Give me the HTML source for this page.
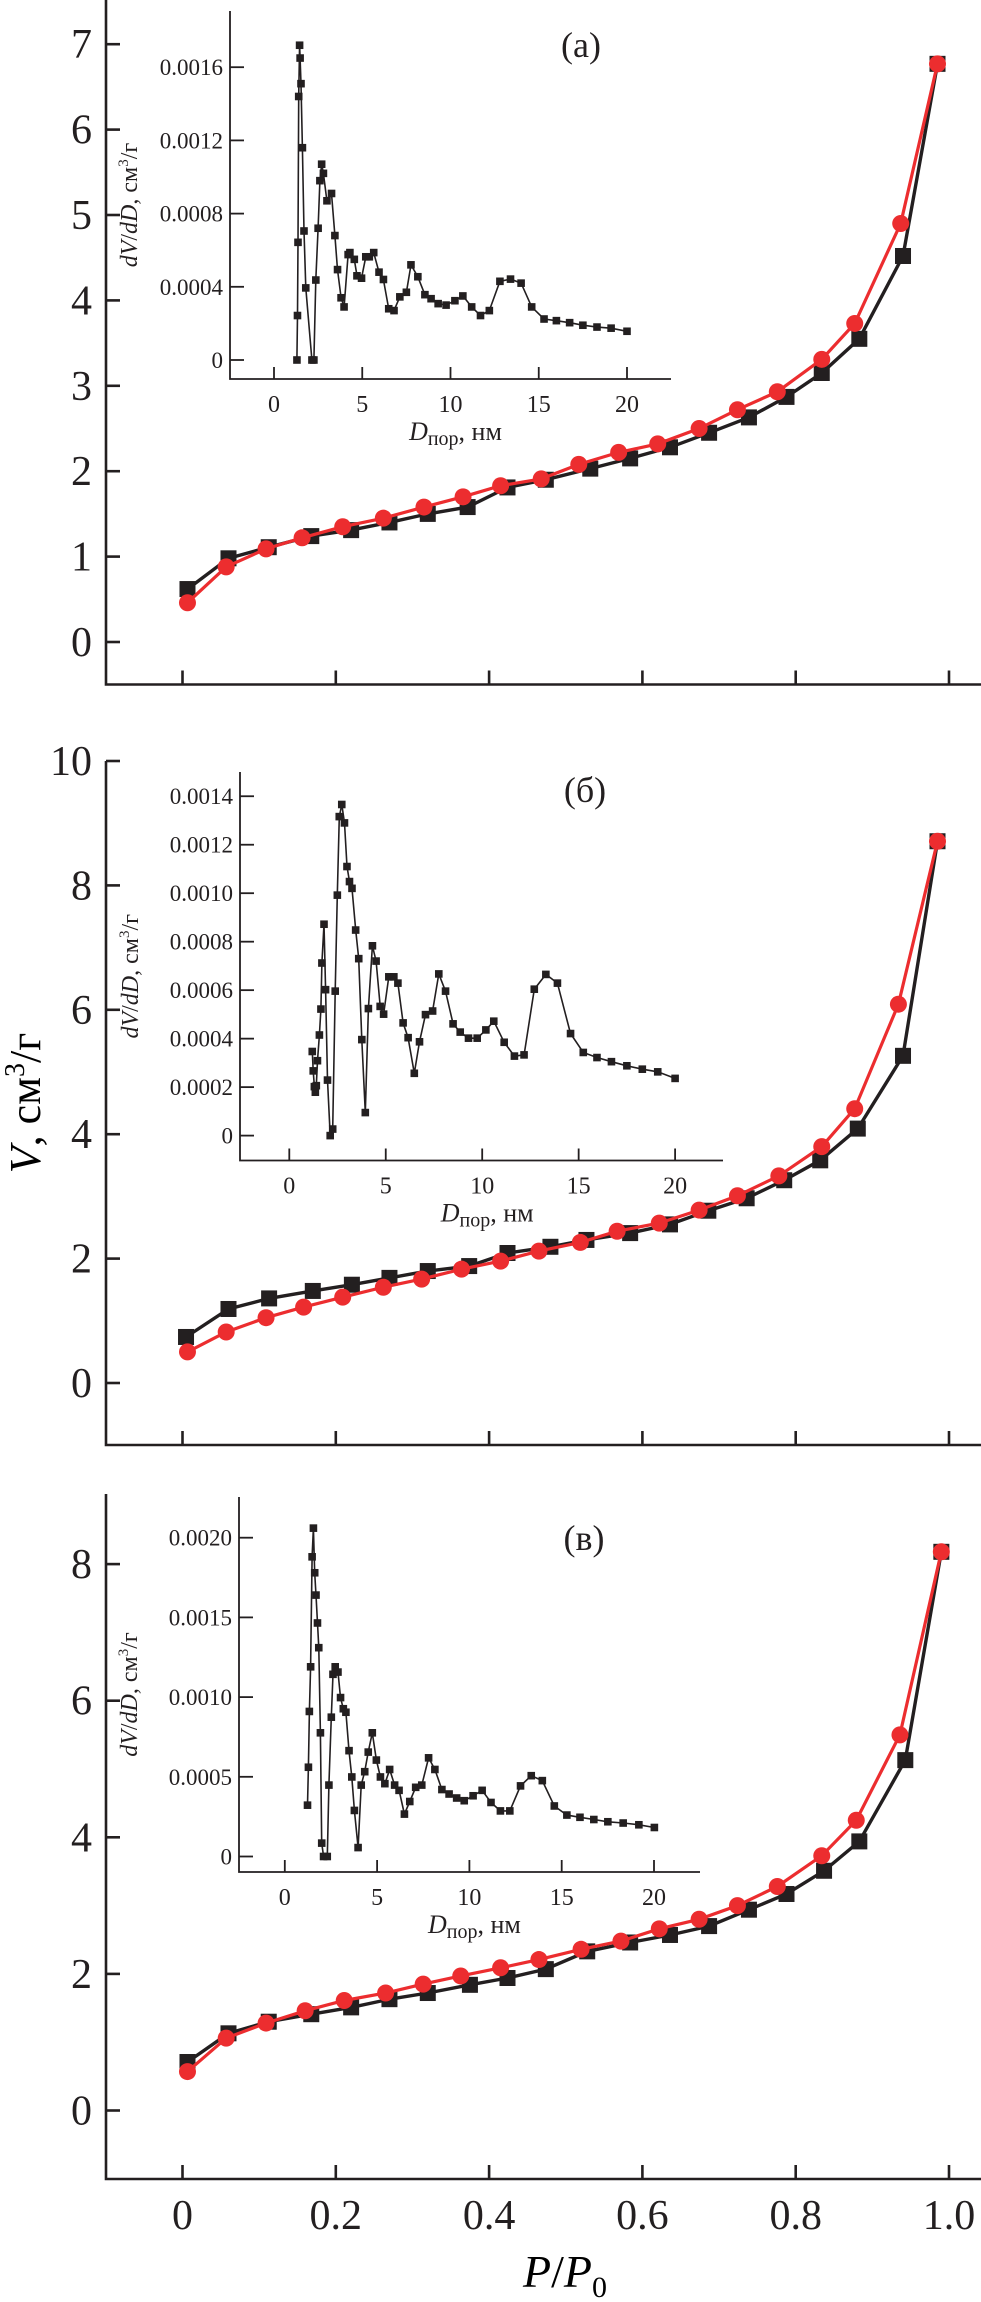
<!DOCTYPE html>
<html><head><meta charset="utf-8"><style>
html,body{margin:0;padding:0;background:#fff;}
svg{display:block;font-family:"Liberation Serif","DejaVu Serif",serif;}
</style></head><body>
<svg id="chart" width="981" height="2302" viewBox="0 0 981 2302" xmlns="http://www.w3.org/2000/svg">
<text x="40" y="1103" font-size="44" text-anchor="middle" transform="rotate(-90 40 1103)"><tspan font-style="italic">V</tspan>, см<tspan font-size="28" dy="-16">3</tspan><tspan dy="16">/г</tspan></text>
<text x="565" y="2287" font-size="46" text-anchor="middle"><tspan font-style="italic">P</tspan>/<tspan font-style="italic">P</tspan><tspan font-size="30" dy="10">0</tspan></text>
</svg>
<script>
// ---------- main isotherm data ----------
const xTicks = [0, 0.2, 0.4, 0.6, 0.8, 1.0];
const xTickLabels = ["0", "0.2", "0.4", "0.6", "0.8", "1.0"];
const aYTicks = [0,1,2,3,4,5,6,7];
const bYTicks = [0,2,4,6,8,10];
const cYTicks = [0,2,4,6,8];
const aBlackP = [0.0065,0.060,0.1125,0.168,0.22,0.27,0.32,0.372,0.424,0.474,0.532,0.584,0.636,0.687,0.739,0.788,0.834,0.883,0.94,0.985];
const aBlackV = [0.62,0.98,1.11,1.24,1.31,1.40,1.50,1.58,1.81,1.90,2.03,2.15,2.28,2.45,2.63,2.87,3.15,3.55,4.52,6.77];
const aRedP = [0.0065,0.057,0.109,0.156,0.209,0.262,0.315,0.366,0.415,0.468,0.517,0.569,0.62,0.674,0.724,0.776,0.834,0.877,0.937,0.985];
const aRedV = [0.46,0.88,1.09,1.22,1.35,1.45,1.58,1.70,1.83,1.91,2.08,2.22,2.32,2.50,2.72,2.93,3.31,3.73,4.90,6.77];
const bBlackP = [0.0046,0.060,0.113,0.17,0.221,0.27,0.32,0.374,0.424,0.48,0.527,0.584,0.636,0.686,0.736,0.785,0.832,0.881,0.94,0.985];
const bBlackV = [0.74,1.19,1.36,1.48,1.58,1.69,1.80,1.88,2.09,2.19,2.30,2.41,2.55,2.77,2.97,3.26,3.58,4.09,5.26,8.71];
const bRedP = [0.0065,0.057,0.109,0.158,0.209,0.262,0.312,0.364,0.415,0.465,0.519,0.567,0.622,0.674,0.724,0.778,0.834,0.877,0.934,0.985];
const bRedV = [0.50,0.82,1.05,1.22,1.38,1.54,1.67,1.83,1.96,2.12,2.26,2.44,2.57,2.78,3.01,3.33,3.80,4.41,6.09,8.71];
const cBlackP = [0.0065,0.060,0.1125,0.168,0.22,0.27,0.32,0.375,0.424,0.474,0.528,0.584,0.636,0.687,0.739,0.788,0.837,0.883,0.943,0.99];
const cBlackV = [0.71,1.13,1.30,1.41,1.51,1.63,1.72,1.84,1.94,2.07,2.33,2.46,2.57,2.70,2.94,3.17,3.51,3.94,5.13,8.18];
const cRedP = [0.0065,0.057,0.109,0.16,0.211,0.265,0.314,0.363,0.415,0.465,0.52,0.572,0.622,0.674,0.724,0.776,0.834,0.879,0.936,0.99];
const cRedV = [0.57,1.06,1.28,1.46,1.61,1.72,1.85,1.97,2.09,2.21,2.36,2.48,2.66,2.80,3.00,3.28,3.73,4.25,5.50,8.18];
// ---------- inset pore-size distribution data (units 1e-4 cm3/g/nm) ----------
const insetXTicks = [0,5,10,15,20];
const aInsetYTicks = [0,4,8,12,16];
const aInsetYLabels = ["0","0.0004","0.0008","0.0012","0.0016"];
const bInsetYTicks = [0,2,4,6,8,10,12,14];
const bInsetYLabels = ["0","0.0002","0.0004","0.0006","0.0008","0.0010","0.0012","0.0014"];
const cInsetYTicks = [0,5,10,15,20];
const cInsetYLabels = ["0","0.0005","0.0010","0.0015","0.0020"];
const aInsetD = [1.30,1.33,1.36,1.40,1.45,1.48,1.53,1.61,1.70,1.80,2.15,2.26,2.37,2.5,2.6,2.7,2.8,3.0,3.26,3.45,3.6,3.8,3.97,4.2,4.3,4.55,4.7,4.96,5.2,5.4,5.65,5.95,6.2,6.5,6.8,7.13,7.5,7.76,8.15,8.55,8.9,9.3,9.75,10.25,10.7,11.2,11.7,12.2,12.8,13.4,14.0,14.6,15.3,16.0,16.75,17.5,18.3,19.1,20.0];
const aInsetY = [0,2.43,6.43,14.4,17.2,16.5,15.1,11.6,7.05,3.94,0,0,4.37,7.2,9.8,10.7,10.2,8.7,9.1,6.8,4.94,3.4,2.9,5.76,5.87,5.5,4.6,4.47,5.64,5.64,5.87,4.8,4.4,2.8,2.7,3.45,3.7,5.2,4.55,3.57,3.35,3.08,3.0,3.24,3.5,2.9,2.43,2.7,4.3,4.42,4.2,2.9,2.24,2.15,2.04,1.9,1.8,1.74,1.57];
const bInsetD = [1.19,1.24,1.30,1.35,1.40,1.46,1.56,1.64,1.69,1.80,1.88,1.98,2.12,2.25,2.38,2.49,2.59,2.72,2.86,2.99,3.12,3.25,3.44,3.6,3.76,3.94,4.10,4.31,4.5,4.71,4.89,5.16,5.42,5.63,5.9,6.16,6.48,6.75,7.06,7.43,7.75,8.1,8.49,8.86,9.29,9.74,10.19,10.6,11.14,11.67,12.17,12.7,13.3,13.9,14.58,15.24,15.95,16.7,17.5,18.3,19.1,20.0];
const bInsetY = [3.47,2.67,2.02,1.79,2.06,3.09,4.15,5.22,7.12,8.72,6.02,2.29,0,0.27,5.96,9.92,13.16,13.66,12.9,11.1,10.48,10.2,8.48,7.3,3.96,0.95,5.24,7.83,7.2,5.33,5.01,6.55,6.55,6.29,4.65,4.04,2.57,3.87,4.99,5.14,6.67,5.96,4.61,4.27,4.02,4.02,4.36,4.72,3.85,3.28,3.33,6.04,6.65,6.29,4.21,3.43,3.22,3.05,2.88,2.74,2.63,2.36];
const cInsetD = [1.23,1.28,1.33,1.40,1.48,1.55,1.62,1.69,1.77,1.84,1.93,2.0,2.1,2.3,2.39,2.52,2.61,2.73,2.88,3.02,3.17,3.31,3.48,3.63,3.77,3.97,4.14,4.33,4.52,4.74,4.96,5.18,5.42,5.68,5.95,6.19,6.48,6.77,7.09,7.42,7.79,8.13,8.51,8.9,9.31,9.72,10.2,10.69,11.17,11.68,12.19,12.77,13.35,13.95,14.6,15.28,15.99,16.74,17.5,18.33,19.18,20.02];
const cInsetY = [3.22,5.6,9.1,11.9,18.8,20.6,17.8,16.4,14.65,13.1,7.76,0.84,0,0,4.48,8.74,11.43,11.9,11.57,9.97,9.27,9.05,6.64,4.99,2.89,0.56,4.48,5.32,6.55,7.76,6.05,4.99,4.57,5.46,4.48,4.15,2.66,3.45,4.34,4.48,6.19,5.46,4.2,3.92,3.67,3.5,3.81,4.15,3.39,2.86,2.86,4.43,5.07,4.76,3.17,2.6,2.46,2.32,2.18,2.1,1.99,1.82];

const NS = "http://www.w3.org/2000/svg";
const svg = document.getElementById('chart');
function el(tag, attrs, parent) {
  const e = document.createElementNS(NS, tag);
  for (const k in attrs) e.setAttribute(k, attrs[k]);
  (parent || svg).appendChild(e);
  return e;
}
// layout (pixels)
const X0 = 182.5, X1 = 949; // p=0 and p=1
const xScale = p => X0 + (X1 - X0) * p;
const panels = [
  {id:'a', top:0, bottom:684.5, y0:642, yPerUnit:85.4, ticks:aYTicks, bp:aBlackP, bv:aBlackV, rp:aRedP, rv:aRedV, letter:'(а)', lx:581, ly:57,
   inset:{left:230, top:11, bottom:379, right:671, x0:274, xPer:17.65, y0:360, yPer:18.3, yt:aInsetYTicks, yl:aInsetYLabels, d:aInsetD, v:aInsetY, lab:137}},
  {id:'b', top:761, bottom:1445, y0:1383, yPerUnit:62.2, ticks:bYTicks, bp:bBlackP, bv:bBlackV, rp:bRedP, rv:bRedV, letter:'(б)', lx:585, ly:802,
   inset:{left:240, top:772, bottom:1160.5, right:723, x0:289.3, xPer:19.29, y0:1135.6, yPer:24.24, yt:bInsetYTicks, yl:bInsetYLabels, d:bInsetD, v:bInsetY, lab:138}},
  {id:'c', top:1494, bottom:2179, y0:2110.5, yPerUnit:68.3, ticks:cYTicks, bp:cBlackP, bv:cBlackV, rp:cRedP, rv:cRedV, letter:'(в)', lx:584, ly:1550,
   inset:{left:239, top:1497, bottom:1872, right:700, x0:284.8, xPer:18.46, y0:1856.5, yPer:15.94, yt:cInsetYTicks, yl:cInsetYLabels, d:cInsetD, v:cInsetY, lab:137}}
];

panels.forEach((P, pi) => {
  const g = el('g', {});
  
  
  const yS = v => P.y0 - P.yPerUnit * v;
  // axes
  const ax = el('path', {d:`M106,${P.top} V${P.bottom} H981`, fill:'none', stroke:'#231f20', 'stroke-width':2.6}, g);
  
  
  xTicks.forEach((t, i) => {
    const tk = el('line', {x1:xScale(t), x2:xScale(t), y1:P.bottom, y2:P.bottom-14, stroke:'#231f20', 'stroke-width':2.6}, g);
    
    
    if (pi === 2) {
      const tl = el('text', {x:xScale(t), y:2229, 'font-size':42, 'text-anchor':'middle', fill:'#231f20'}, g);
      tl.textContent = xTickLabels[i];
      
      
    }
  });
  P.ticks.forEach(t => {
    const tk = el('line', {x1:106, x2:120, y1:yS(t), y2:yS(t), stroke:'#231f20', 'stroke-width':2.6}, g);
    
    
    const tl = el('text', {x:92, y:yS(t)+14, 'font-size':42, 'text-anchor':'end', fill:'#231f20'}, g);
    tl.textContent = String(t);
    
    
  });
  const lt = el('text', {x:P.lx, y:P.ly, 'font-size':36, 'text-anchor':'middle', fill:'#231f20'}, g);
  lt.textContent = P.letter;
  
  

  // inset
  const I = P.inset;
  const ig = el('g', {}, g);
  
  
  const ix = d => I.x0 + I.xPer * d;
  const iy = v => I.y0 - I.yPer * v;
  const iax = el('path', {d:`M${I.left},${I.top} V${I.bottom} H${I.right}`, fill:'none', stroke:'#231f20', 'stroke-width':1.8}, ig);
  
  
  insetXTicks.forEach(t => {
    const tk = el('line', {x1:ix(t), x2:ix(t), y1:I.bottom, y2:I.bottom-12, stroke:'#231f20', 'stroke-width':1.8}, ig);
    
    
    const tl = el('text', {x:ix(t), y:I.bottom+33, 'font-size':24, 'text-anchor':'middle', fill:'#231f20'}, ig);
    tl.textContent = String(t);
    
    
  });
  I.yt.forEach((t, i) => {
    const tk = el('line', {x1:I.left, x2:I.left+14, y1:iy(t), y2:iy(t), stroke:'#231f20', 'stroke-width':1.8}, ig);
    
    
    const tl = el('text', {x:I.left-7, y:iy(t)+8, 'font-size':23, 'text-anchor':'end', fill:'#231f20'}, ig);
    tl.textContent = I.yl[i];
    
    
  });
  const xl = el('text', {x:(ix(0)+ix(20))/2+5, y:I.bottom+61, 'font-size':26, 'text-anchor':'middle', fill:'#231f20'}, ig);
  xl.innerHTML = '<tspan font-style="italic">D</tspan><tspan font-size="20" dy="5">пор</tspan><tspan dy="-5">, нм</tspan>';
  
  
  const cy = (I.top + I.bottom) / 2 + 10;
  const yl = el('text', {x:I.lab, y:cy, 'font-size':24, 'text-anchor':'middle', fill:'#231f20', transform:`rotate(-90 ${I.lab} ${cy})`}, ig);
  yl.innerHTML = '<tspan font-style="italic">dV</tspan>/<tspan font-style="italic">dD</tspan>, см<tspan font-size="15" dy="-9">3</tspan><tspan dy="9">/г</tspan>';
  
  
  const ipts = I.d.map((d, i) => ix(d).toFixed(1) + ',' + iy(I.v[i]).toFixed(1)).join(' ');
  const il = el('polyline', {points:ipts, fill:'none', stroke:'#231f20', 'stroke-width':1.6}, ig);
  
  
  I.d.forEach((d, i) => {
    const m = el('rect', {x:ix(d)-3.8, y:iy(I.v[i])-3.8, width:7.6, height:7.6, fill:'#231f20'}, ig);
    
    
  });

  // main series
  const bl = el('polyline', {points:P.bp.map((p,i)=>xScale(p).toFixed(1)+','+yS(P.bv[i]).toFixed(1)).join(' '), fill:'none', stroke:'#231f20', 'stroke-width':3.4}, g);
  
  
  P.bp.forEach((p, i) => {
    const m = el('rect', {x:xScale(p)-8, y:yS(P.bv[i])-8, width:16, height:16, fill:'#231f20'}, g);
    
    
  });
  const rl = el('polyline', {points:P.rp.map((p,i)=>xScale(p).toFixed(1)+','+yS(P.rv[i]).toFixed(1)).join(' '), fill:'none', stroke:'#ec2d2f', 'stroke-width':3.2}, g);
  
  
  P.rp.forEach((p, i) => {
    const m = el('circle', {cx:xScale(p), cy:yS(P.rv[i]), r:8.5, fill:'#ec2d2f'}, g);
    
    
  });
});
</script>
</body></html>
